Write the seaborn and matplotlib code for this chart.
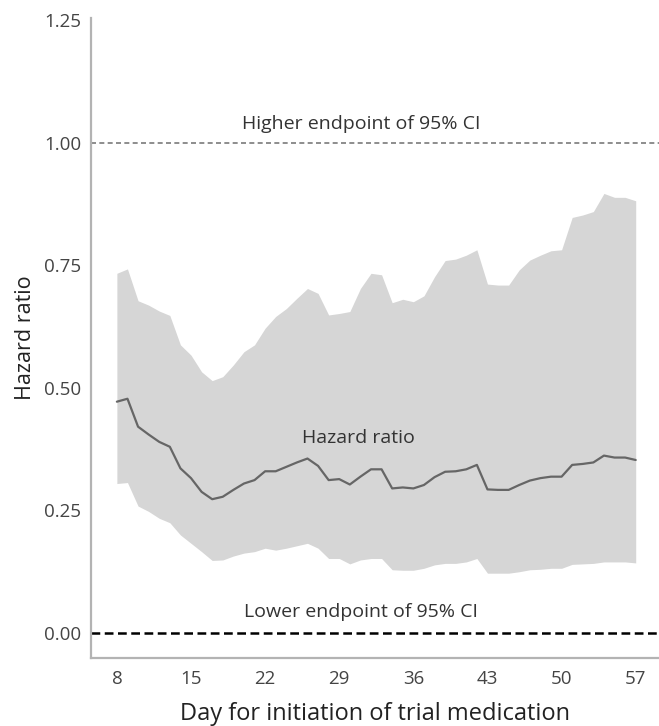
import numpy as np
import pandas as pd
import seaborn as sns
import matplotlib.pyplot as plt

# Dados -----------------------------------------------------------------------
dias = list(range(8, 58))

razao_risco = [0.472, 0.478, 0.421, 0.405, 0.390, 0.380, 0.336, 0.316, 0.288, 0.273,
               0.278, 0.292, 0.305, 0.312, 0.330, 0.330, 0.339, 0.348, 0.356, 0.341,
               0.312, 0.314, 0.303, 0.319, 0.334, 0.334, 0.295, 0.297, 0.295, 0.302,
               0.318, 0.329, 0.330, 0.334, 0.343, 0.293, 0.292, 0.292, 0.302, 0.311,
               0.316, 0.319, 0.319, 0.343, 0.345, 0.348, 0.362, 0.358, 0.358, 0.353]

ic_superior = [0.734, 0.743, 0.678, 0.669, 0.657, 0.648, 0.588, 0.567, 0.533, 0.515,
               0.523, 0.547, 0.574, 0.588, 0.622, 0.646, 0.662, 0.683, 0.703, 0.693,
               0.649, 0.652, 0.656, 0.703, 0.734, 0.731, 0.674, 0.681, 0.676, 0.688,
               0.727, 0.760, 0.763, 0.771, 0.782, 0.712, 0.710, 0.710, 0.741, 0.761,
               0.771, 0.780, 0.782, 0.848, 0.853, 0.860, 0.897, 0.889, 0.889, 0.882]

ic_inferior = [0.305, 0.307, 0.259, 0.248, 0.234, 0.225, 0.200, 0.183, 0.166, 0.148,
               0.149, 0.157, 0.163, 0.166, 0.173, 0.169, 0.173, 0.178, 0.183, 0.173,
               0.152, 0.152, 0.141, 0.149, 0.152, 0.152, 0.129, 0.128, 0.128, 0.132,
               0.139, 0.142, 0.142, 0.145, 0.152, 0.122, 0.122, 0.122, 0.125, 0.129,
               0.130, 0.132, 0.132, 0.140, 0.141, 0.142, 0.145, 0.145, 0.145, 0.143]

ticks_x = [8, 15, 22, 29, 36, 43, 50, 57]
ticks_y = [0.00, 0.25, 0.50, 0.75, 1.00, 1.25]

df = pd.DataFrame({'Dia': dias, 'HR': razao_risco,
                   'Superior': ic_superior, 'Inferior': ic_inferior})

# Gráfico ----------------------------------------------------------------------
sns.set_style('white')
plt.rcParams['font.family'] = ['Open Sans', 'DejaVu Sans']

fig = plt.figure(figsize=(6.59, 7.26), dpi=100)
ax = fig.add_axes([0.138, 0.0937, 0.862, 0.8815])

ax.fill_between(df['Dia'], df['Inferior'], df['Superior'], color='#d6d6d6', lw=0)
sns.lineplot(data=df, x='Dia', y='HR', color='#666666', linewidth=1.6, ax=ax)

ax.axhline(1.0, color='#7a7a7a', linestyle=(0, (3, 2)), linewidth=1.2)
ax.axhline(0.0, color='black', linestyle=(0, (3.5, 1.8)), linewidth=1.8)

texto = dict(ha='center', va='center', fontsize=14, color='#333333')
ax.text(31.1, 1.039, 'Higher endpoint of 95% CI', **texto)
ax.text(31.1, 0.043, 'Lower endpoint of 95% CI', **texto)
ax.text(30.8, 0.398, 'Hazard ratio', **texto)

ax.set_xlim(5.55, 59.2)
ax.set_ylim(-0.051, 1.255)
ax.set_xticks(ticks_x)
ax.set_yticks(ticks_y)
ax.set_yticklabels([f'{v:.2f}' for v in ticks_y])

ax.set_xlabel('Day for initiation of trial medication', fontsize=17, color='#222222', labelpad=10)
ax.set_ylabel('Hazard ratio', fontsize=15.5, color='#222222', labelpad=6)

for lado in ['top', 'right']:
    ax.spines[lado].set_visible(False)
for lado in ['left', 'bottom']:
    ax.spines[lado].set_color('#b3b3b3')
    ax.spines[lado].set_linewidth(1.6)

ax.tick_params(axis='both', colors='#999999', length=4, width=1, labelsize=13.5,
               labelcolor='#444444')
ax.tick_params(axis='x', pad=5)
ax.tick_params(axis='y', pad=3)
ax.grid(False)

fig.savefig('out.png', dpi=100)
